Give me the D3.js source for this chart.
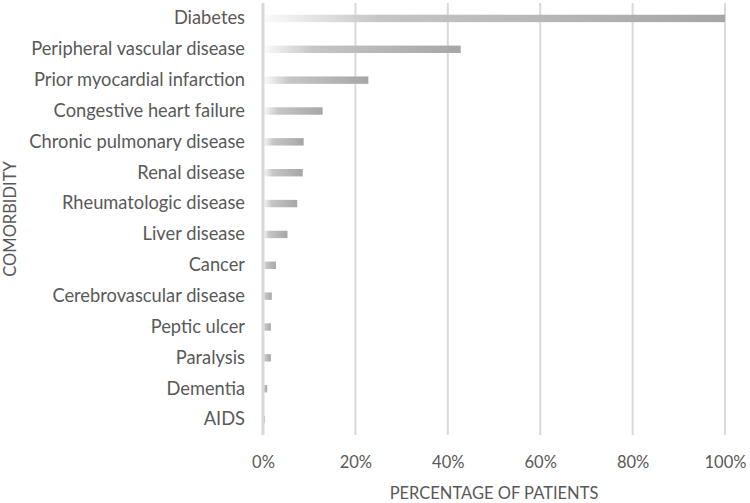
<!DOCTYPE html>
<html><head><meta charset="utf-8">
<script src="https://cdn.jsdelivr.net/npm/d3@7"></script>
<style>body{margin:0;background:#fff}svg{display:block}text{font-family:Lato,"Open Sans",sans-serif;fill:#595959}</style>
</head><body><svg id="c" width="750" height="503"></svg>
<script>
const categories = ["Diabetes","Peripheral vascular disease","Prior myocardial infarction","Congestive heart failure","Chronic pulmonary disease","Renal disease","Rheumatologic disease","Liver disease","Cancer","Cerebrovascular disease","Peptic ulcer","Paralysis","Dementia","AIDS"];
const values = [100, 42.8, 22.8, 12.9, 8.8, 8.6, 7.4, 5.3, 2.8, 1.9, 1.7, 1.7, 0.9, 0.4];
const xTicks = [0, 20, 40, 60, 80, 100];
const xTitle = "PERCENTAGE OF PATIENTS";
const yTitle = "COMORBIDITY";

const svg = d3.select("#c");
const m = {l:263, r:725, t:3, b:435};
const x = d3.scaleLinear().domain([0,100]).range([m.l, m.r]);
const y = d3.scaleBand().domain(categories).range([m.t, m.b]).paddingInner(0.76).paddingOuter(0.38);

const defs = svg.append("defs");
const g = defs.append("linearGradient").attr("id","gr").attr("x1","0").attr("x2","1").attr("y1","0").attr("y2","0");
g.append("stop").attr("offset","0").attr("stop-color","#fbfbfb");
g.append("stop").attr("offset","0.25").attr("stop-color","#c6c6c6");
g.append("stop").attr("offset","1").attr("stop-color","#a6a6a6");

// gridlines
svg.append("g").selectAll("line").data(xTicks.slice(1)).join("line")
  .attr("x1",d=>x(d)).attr("x2",d=>x(d)).attr("y1",m.t).attr("y2",m.b)
  .attr("stroke","#d9d9d9").attr("stroke-width",2);

// bars
svg.append("g").selectAll("rect").data(categories).join("rect")
  .attr("x", x(0)).attr("y", d=>y(d)).attr("height", y.bandwidth())
  .attr("width", (d,i)=>x(values[i])-x(0)).attr("fill","url(#gr)");

// zero axis line
svg.append("line").attr("x1",x(0)).attr("x2",x(0)).attr("y1",m.t).attr("y2",m.b)
  .attr("stroke","#d9d9d9").attr("stroke-width",3);

// category labels
const yAxis = d3.axisLeft(y).tickSize(0).tickPadding(0);
const ya = svg.append("g").attr("transform",`translate(245,0)`).call(yAxis);
ya.select(".domain").remove();
ya.selectAll("text").attr("font-size",18.3).style("fill","#595959").style("font-family","Lato, sans-serif").attr("dy","0.32em");

// x tick labels
const xAxis = d3.axisBottom(x).tickValues(xTicks).tickFormat(d=>d+"%").tickSize(0).tickPadding(0);
const xa = svg.append("g").attr("transform",`translate(0,${463})`).call(xAxis);
xa.select(".domain").remove();
xa.selectAll("text").attr("font-size",16.5).style("fill","#595959").style("font-family","Lato, sans-serif").attr("dy","0.32em");

svg.append("text").attr("x",(m.l+m.r)/2).attr("y",494).attr("text-anchor","middle").attr("font-size",16.5).attr("dy","0.32em").text(xTitle);
svg.append("text").attr("transform",`translate(11,${(m.t+m.b)/2}) rotate(-90)`).attr("text-anchor","middle").attr("font-size",16.5).attr("dy","0.32em").text(yTitle);
</script></body></html>
